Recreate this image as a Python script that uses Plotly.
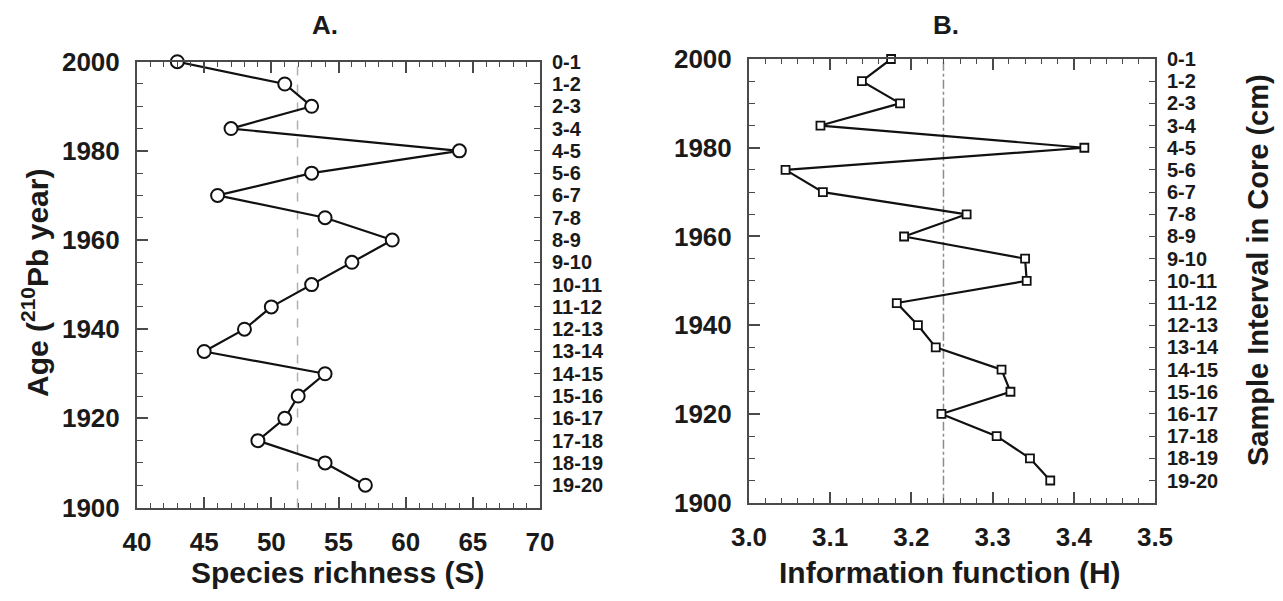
import numpy as np
import plotly.graph_objects as go

# ---------------- data ----------------
ages = [2000, 1995, 1990, 1985, 1980, 1975, 1970, 1965, 1960, 1955,
        1950, 1945, 1940, 1935, 1930, 1925, 1920, 1915, 1910, 1905]
intervals = ["0-1", "1-2", "2-3", "3-4", "4-5", "5-6", "6-7", "7-8", "8-9", "9-10",
             "10-11", "11-12", "12-13", "13-14", "14-15", "15-16", "16-17", "17-18",
             "18-19", "19-20"]
richness_S = [43, 51, 53, 47, 64, 53, 46, 54, 59, 56,
              53, 50, 48, 45, 54, 52, 51, 49, 54, 57]
info_H = [3.175, 3.139, 3.186, 3.088, 3.413, 3.045, 3.091, 3.268, 3.191, 3.340,
          3.342, 3.182, 3.208, 3.230, 3.311, 3.322, 3.237, 3.305, 3.346, 3.371]
year_ticks = [1900, 1920, 1940, 1960, 1980, 2000]
S_ticks = [40, 45, 50, 55, 60, 65, 70]
H_ticks = [3.0, 3.1, 3.2, 3.3, 3.4, 3.5]
H_ticktext = ["3.0", "3.1", "3.2", "3.3", "3.4", "3.5"]

mean_S = float(np.mean(richness_S))
mean_H = float(np.mean(info_H))

# ---------------- layout geometry ----------------
OFF = 8  # page body margin
W, H = 1283 - 2 * OFF, 601 - 2 * OFF
def px(x):
    return (x - OFF) / W
def py(y):
    return 1 - (y - OFF) / H

FONT = "Liberation Sans, Arial, sans-serif"
tickfont = dict(family=FONT, size=26, color="#1a1a1a", weight="bold")
intfont = dict(family=FONT, size=20, color="#1a1a1a", weight="bold")
titlefont = dict(family=FONT, size=30, color="#1a1a1a", weight="bold")
AX = "#4a4a4a"

fig = go.Figure()

line_style = dict(color="#111111", width=2.2)

fig.add_trace(go.Scatter(
    x=richness_S, y=ages, mode="lines+markers", xaxis="x", yaxis="y",
    line=line_style, cliponaxis=False, showlegend=False,
    marker=dict(symbol="circle", size=13, color="white",
                line=dict(color="#111111", width=2))))
fig.add_trace(go.Scatter(
    x=richness_S, y=ages, mode="lines", xaxis="x", yaxis="y3",
    opacity=0, showlegend=False, hoverinfo="skip"))

fig.add_trace(go.Scatter(
    x=info_H, y=ages, mode="lines+markers", xaxis="x2", yaxis="y2",
    line=line_style, cliponaxis=False, showlegend=False,
    marker=dict(symbol="square", size=8, color="white",
                line=dict(color="#111111", width=1.8))))
fig.add_trace(go.Scatter(
    x=info_H, y=ages, mode="lines", xaxis="x2", yaxis="y4",
    opacity=0, showlegend=False, hoverinfo="skip"))

common_x = dict(showgrid=False, zeroline=False, showline=True, linecolor=AX, linewidth=2,
                mirror="ticks", ticks="inside", ticklen=11, tickwidth=1.5, tickcolor=AX,
                tickfont=tickfont, ticklabelstandoff=10, automargin=False)
common_y = dict(showgrid=False, zeroline=False, showline=True, linecolor=AX, linewidth=2,
                ticks="inside", ticklen=11, tickwidth=1.5, tickcolor=AX,
                tickfont=tickfont, ticklabelstandoff=10, range=[1900, 2000],
                tickvals=year_ticks, automargin=False)
right_y = dict(side="right", range=[1900, 2000],
               showgrid=False, zeroline=False, showline=True, linecolor=AX, linewidth=2,
               ticks="inside", ticklen=6, tickwidth=1.2, tickcolor=AX,
               tickvals=ages, ticktext=intervals, tickfont=intfont, ticklabelstandoff=6,
               automargin=False)

fig.update_layout(
    width=W, height=H, margin=dict(l=0, r=0, t=0, b=0, autoexpand=False),
    paper_bgcolor="white", plot_bgcolor="white",
    xaxis=dict(**common_x, domain=[px(137), px(540)], anchor="y", range=[40, 70],
               tickvals=S_ticks,
               minor=dict(dtick=1, ticks="inside", ticklen=5, tickcolor=AX, tickwidth=1.2)),
    yaxis=dict(**common_y, domain=[py(507.5), py(61.7)], anchor="x",
               minor=dict(dtick=5, ticks="inside", ticklen=6, tickcolor=AX, tickwidth=1.2)),
    yaxis3=dict(**right_y, overlaying="y", anchor="x"),
    xaxis2=dict(**common_x, domain=[px(749), px(1155)], anchor="y2", range=[3.0, 3.5],
                tickvals=H_ticks, ticktext=H_ticktext,
                minor=dict(dtick=0.02, ticks="inside", ticklen=5, tickcolor=AX, tickwidth=1.2)),
    yaxis2=dict(**common_y, domain=[py(502.7), py(59)], anchor="x2",
                minor=dict(dtick=5, ticks="inside", ticklen=6, tickcolor=AX, tickwidth=1.2)),
    yaxis4=dict(**right_y, overlaying="y2", anchor="x2"),
)

# mean lines
fig.add_shape(type="line", xref="x", yref="y domain", x0=mean_S, x1=mean_S, y0=0, y1=1,
              line=dict(color="#a8b3ba", width=1.5, dash="dash"), layer="below")
fig.add_shape(type="line", xref="x2", yref="y2 domain", x0=mean_H, x1=mean_H, y0=0, y1=1,
              line=dict(color="#8c8c8c", width=1.5, dash="dashdot"), layer="below")

# titles
ann = [
    dict(text="A.", x=px(325), y=py(25), font=dict(family=FONT, size=26, color="#1a1a1a", weight="bold")),
    dict(text="B.", x=px(946), y=py(25), font=dict(family=FONT, size=26, color="#1a1a1a", weight="bold")),
    dict(text="Species richness (S)", x=px(338), y=py(572), font=titlefont),
    dict(text="Information function (H)", x=px(950), y=py(572), font=titlefont),
    dict(text="Age (<sup>210</sup>Pb year)", x=px(35), y=py(283), textangle=-90, font=titlefont),
    dict(text="Sample Interval in Core (cm)", x=px(1258), y=py(270), textangle=-90,
         font=dict(family=FONT, size=29, color="#1a1a1a", weight="bold")),
]
for a in ann:
    fig.add_annotation(xref="paper", yref="paper", showarrow=False,
                       xanchor="center", yanchor="middle", **a)

fig.write_html("out.html")
